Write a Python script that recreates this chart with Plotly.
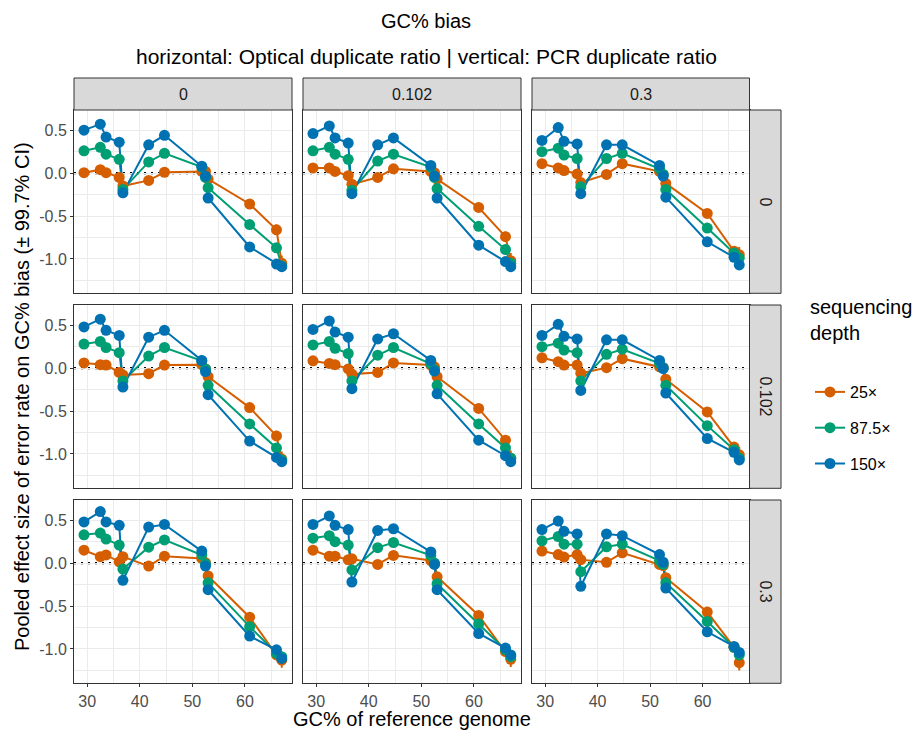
import plotly.graph_objects as go

# ---------------------------------------------------------------- data
GC = [29.4, 32.5, 33.6, 36.1, 36.8, 41.7, 44.7, 51.8, 52.5, 53.0, 60.9, 66.0, 67.0]

OPTICAL_RATIOS = ["0", "0.102", "0.3"]   # facet columns
PCR_RATIOS = ["0", "0.102", "0.3"]       # facet rows
DEPTHS = ["25×", "87.5×", "150×"]

Y_TICKS = [-1.0, -0.5, 0.0, 0.5]
Y_TICK_LABELS = ["-1.0", "-0.5", "0.0", "0.5"]
X_TICKS = [30, 40, 50, 60]
X_TICK_LABELS = ["30", "40", "50", "60"]

# pooled effect sizes, PCR ratio 0
PCR0_OPT0_D25 = [0.005, 0.04, 0.005, -0.05, -0.15, -0.085, 0.01, 0.02, 0.02, -0.07, -0.36, -0.66, -1.05]
PCR0_OPT0_D87 = [0.26, 0.30, 0.22, 0.16, -0.19, 0.13, 0.23, 0.07, -0.05, -0.17, -0.60, -0.87, -1.08]
PCR0_OPT0_D150 = [0.50, 0.57, 0.42, 0.36, -0.23, 0.33, 0.44, 0.08, -0.035, -0.29, -0.86, -1.06, -1.09]

PCR0_OPT1_D25 = [0.06, 0.06, 0.02, -0.03, -0.13, -0.05, 0.05, 0.02, 0.005, -0.07, -0.40, -0.74, -1.02]
PCR0_OPT1_D87 = [0.26, 0.30, 0.22, 0.16, -0.20, 0.14, 0.22, 0.07, -0.05, -0.18, -0.62, -0.89, -1.05]
PCR0_OPT1_D150 = [0.46, 0.55, 0.41, 0.35, -0.24, 0.33, 0.41, 0.09, -0.035, -0.29, -0.84, -1.03, -1.09]

PCR0_OPT2_D25 = [0.11, 0.06, 0.03, -0.01, -0.11, -0.015, 0.11, 0.02, -0.015, -0.12, -0.47, -0.91, -0.95]
PCR0_OPT2_D87 = [0.25, 0.29, 0.21, 0.17, -0.16, 0.17, 0.23, 0.05, -0.015, -0.19, -0.64, -0.93, -0.99]
PCR0_OPT2_D150 = [0.38, 0.53, 0.37, 0.34, -0.24, 0.33, 0.33, 0.09, -0.035, -0.28, -0.80, -0.98, -1.07]

# pooled effect sizes, PCR ratio 0.102
PCR1_OPT0_D25 = [0.06, 0.04, 0.035, -0.05, -0.08, -0.065, 0.035, 0.04, -0.01, -0.10, -0.46, -0.79, -1.06]
PCR1_OPT0_D87 = [0.28, 0.31, 0.24, 0.18, -0.15, 0.14, 0.24, 0.085, -0.01, -0.20, -0.65, -0.93, -1.07]
PCR1_OPT0_D150 = [0.48, 0.57, 0.44, 0.38, -0.22, 0.36, 0.44, 0.09, -0.04, -0.31, -0.85, -1.04, -1.09]

PCR1_OPT1_D25 = [0.085, 0.055, 0.04, -0.01, -0.07, -0.05, 0.06, 0.035, 0.015, -0.10, -0.47, -0.84, -1.05]
PCR1_OPT1_D87 = [0.27, 0.31, 0.23, 0.17, -0.15, 0.15, 0.24, 0.05, -0.02, -0.20, -0.65, -0.93, -1.05]
PCR1_OPT1_D150 = [0.45, 0.55, 0.42, 0.36, -0.24, 0.34, 0.40, 0.09, -0.035, -0.30, -0.84, -1.02, -1.09]

PCR1_OPT2_D25 = [0.12, 0.075, 0.035, 0.035, -0.06, 0.005, 0.11, 0.015, 0.005, -0.13, -0.51, -0.92, -1.01]
PCR1_OPT2_D87 = [0.25, 0.29, 0.21, 0.18, -0.15, 0.16, 0.22, 0.055, 0.005, -0.20, -0.67, -0.95, -1.05]
PCR1_OPT2_D150 = [0.38, 0.51, 0.37, 0.34, -0.26, 0.33, 0.33, 0.09, -0.005, -0.29, -0.82, -0.98, -1.07]

# pooled effect sizes, PCR ratio 0.3
PCR2_OPT0_D25 = [0.15, 0.075, 0.095, 0.015, 0.075, -0.035, 0.08, 0.055, 0.005, -0.15, -0.63, -1.07, -1.13]
PCR2_OPT0_D87 = [0.33, 0.35, 0.28, 0.21, -0.07, 0.185, 0.27, 0.095, -0.01, -0.23, -0.74, -1.05, -1.09]
PCR2_OPT0_D150 = [0.48, 0.60, 0.48, 0.44, -0.20, 0.42, 0.45, 0.14, -0.035, -0.31, -0.85, -1.01, -1.11]

PCR2_OPT1_D25 = [0.15, 0.08, 0.08, 0.04, 0.05, -0.015, 0.09, 0.03, -0.01, -0.16, -0.61, -1.03, -1.12]
PCR2_OPT1_D87 = [0.29, 0.32, 0.25, 0.21, -0.08, 0.18, 0.24, 0.09, 0.0, -0.24, -0.71, -1.01, -1.09]
PCR2_OPT1_D150 = [0.45, 0.55, 0.44, 0.39, -0.22, 0.38, 0.40, 0.13, -0.015, -0.31, -0.82, -0.99, -1.07]

PCR2_OPT2_D25 = [0.14, 0.10, 0.07, 0.10, 0.04, 0.01, 0.12, -0.015, -0.03, -0.17, -0.57, -0.98, -1.16]
PCR2_OPT2_D87 = [0.26, 0.31, 0.22, 0.22, -0.10, 0.19, 0.22, 0.03, -0.015, -0.23, -0.68, -0.98, -1.07]
PCR2_OPT2_D150 = [0.39, 0.49, 0.37, 0.34, -0.27, 0.34, 0.32, 0.10, 0.01, -0.29, -0.80, -0.97, -1.04]

# half-width of the 99.7% CI per depth
CI_D25 = [0.02, 0.02, 0.02, 0.02, 0.02, 0.02, 0.02, 0.02, 0.02, 0.03, 0.05, 0.06, 0.09]
CI_D87 = [0.015, 0.015, 0.015, 0.015, 0.015, 0.015, 0.015, 0.015, 0.015, 0.02, 0.04, 0.05, 0.05]
CI_D150 = [0.015, 0.015, 0.015, 0.015, 0.015, 0.015, 0.015, 0.015, 0.015, 0.02, 0.04, 0.04, 0.04]

BIAS = {
    (0, 0): [PCR0_OPT0_D25, PCR0_OPT0_D87, PCR0_OPT0_D150],
    (0, 1): [PCR0_OPT1_D25, PCR0_OPT1_D87, PCR0_OPT1_D150],
    (0, 2): [PCR0_OPT2_D25, PCR0_OPT2_D87, PCR0_OPT2_D150],
    (1, 0): [PCR1_OPT0_D25, PCR1_OPT0_D87, PCR1_OPT0_D150],
    (1, 1): [PCR1_OPT1_D25, PCR1_OPT1_D87, PCR1_OPT1_D150],
    (1, 2): [PCR1_OPT2_D25, PCR1_OPT2_D87, PCR1_OPT2_D150],
    (2, 0): [PCR2_OPT0_D25, PCR2_OPT0_D87, PCR2_OPT0_D150],
    (2, 1): [PCR2_OPT1_D25, PCR2_OPT1_D87, PCR2_OPT1_D150],
    (2, 2): [PCR2_OPT2_D25, PCR2_OPT2_D87, PCR2_OPT2_D150],
}
CI = [CI_D25, CI_D87, CI_D150]

# ---------------------------------------------------------------- style
COLORS = ["#D55E00", "#009E73", "#0072B2"]
FONT = "Liberation Sans, Arial, sans-serif"
W, H = 917, 730

COL_PX = [(74, 292), (303, 521), (532, 749.5)]
ROW_PX = [(110, 293.3), (305, 488.3), (500, 683.3)]
STRIP_TOP = 78
RIGHT_STRIP = (749.5, 781)

X_RANGE = [27.5, 68.95]
Y_RANGE = [-1.40, 0.735]

LINE_W = 2
MARKER_SIZE = 11
TICK_FONT = dict(size=16, color="#4D4D4D", family=FONT)
STRIP_FONT = dict(size=16, color="#1A1A1A", family=FONT)


def fx(p):
    return p / W


def fy(p):
    return 1 - p / H


def suffix(k):
    return "" if k == 1 else str(k)


fig = go.Figure()
layout_axes = {}
shapes = []
annotations = []

for r in range(3):
    for c in range(3):
        k = r * 3 + c + 1
        xa, ya = "x" + suffix(k), "y" + suffix(k)
        xl, xr = COL_PX[c]
        yt, yb = ROW_PX[r]
        bottom = r == 2
        left = c == 0
        layout_axes["xaxis" + suffix(k)] = dict(
            domain=[fx(xl), fx(xr)], anchor=ya, range=X_RANGE,
            tickvals=X_TICKS, ticktext=X_TICK_LABELS,
            showticklabels=bottom, ticks="outside" if bottom else "",
            ticklen=3, tickwidth=1, tickcolor="#333333", tickfont=TICK_FONT,
            showgrid=True, gridcolor="#EBEBEB", gridwidth=1.2,
            minor=dict(tickvals=[25, 35, 45, 55, 65], showgrid=True,
                       gridcolor="#EBEBEB", gridwidth=0.6, ticks=""),
            zeroline=False, showline=True, mirror=True,
            linecolor="#333333", linewidth=1,
        )
        layout_axes["yaxis" + suffix(k)] = dict(
            domain=[fy(yb), fy(yt)], anchor=xa, range=Y_RANGE,
            tickvals=Y_TICKS, ticktext=Y_TICK_LABELS,
            showticklabels=left, ticks="outside" if left else "",
            ticklen=3, tickwidth=1, tickcolor="#333333", tickfont=TICK_FONT,
            showgrid=True, gridcolor="#EBEBEB", gridwidth=1.2,
            minor=dict(tickvals=[-1.25, -0.75, -0.25, 0.25], showgrid=True,
                       gridcolor="#EBEBEB", gridwidth=0.6, ticks=""),
            zeroline=False, showline=True, mirror=True,
            linecolor="#333333", linewidth=1,
        )

        # reference line at zero, under the data
        shapes.append(dict(
            type="line", xref=f"{xa} domain", yref=ya, x0=0, x1=1, y0=0, y1=0,
            line=dict(color="black", width=2.2, dash="2px,5px"), layer="below",
        ))

        series = BIAS[(r, c)]
        # connecting lines first, then point ranges on top
        for d in range(3):
            fig.add_trace(go.Scatter(
                x=GC, y=series[d], xaxis=xa, yaxis=ya, mode="lines",
                line=dict(color=COLORS[d], width=LINE_W),
                showlegend=False, hoverinfo="skip",
            ))
        for d in range(3):
            fig.add_trace(go.Scatter(
                x=GC, y=series[d], xaxis=xa, yaxis=ya, mode="markers",
                marker=dict(color=COLORS[d], size=MARKER_SIZE, line=dict(width=0)),
                error_y=dict(type="data", array=CI[d], color=COLORS[d],
                             thickness=LINE_W, width=0),
                showlegend=False, name=DEPTHS[d],
            ))

# legend entries
for d in range(3):
    fig.add_trace(go.Scatter(
        x=[None], y=[None], xaxis="x", yaxis="y", mode="lines+markers",
        name=DEPTHS[d], legendgroup=DEPTHS[d],
        line=dict(color=COLORS[d], width=LINE_W),
        marker=dict(color=COLORS[d], size=MARKER_SIZE),
    ))

# facet strips (top: optical duplicate ratio, right: PCR duplicate ratio)
for c in range(3):
    xl, xr = COL_PX[c]
    shapes.append(dict(
        type="rect", xref="paper", yref="paper",
        x0=fx(xl), x1=fx(xr), y0=fy(ROW_PX[0][0]), y1=fy(STRIP_TOP),
        fillcolor="#D9D9D9", line=dict(color="#333333", width=1),
    ))
    annotations.append(dict(
        xref="paper", yref="paper", x=fx((xl + xr) / 2),
        y=fy((STRIP_TOP + ROW_PX[0][0]) / 2), text=OPTICAL_RATIOS[c],
        showarrow=False, xanchor="center", yanchor="middle", font=STRIP_FONT,
    ))
for r in range(3):
    yt, yb = ROW_PX[r]
    shapes.append(dict(
        type="rect", xref="paper", yref="paper",
        x0=fx(RIGHT_STRIP[0]), x1=fx(RIGHT_STRIP[1]), y0=fy(yb), y1=fy(yt),
        fillcolor="#D9D9D9", line=dict(color="#333333", width=1),
    ))
    annotations.append(dict(
        xref="paper", yref="paper", x=fx(sum(RIGHT_STRIP) / 2),
        y=fy((yt + yb) / 2), text=PCR_RATIOS[r], textangle=90,
        showarrow=False, xanchor="center", yanchor="middle", font=STRIP_FONT,
    ))

# titles
annotations += [
    dict(xref="paper", yref="paper", x=fx(426), y=fy(21), text="GC% bias",
         showarrow=False, xanchor="center", yanchor="middle",
         font=dict(size=20, color="black", family=FONT)),
    dict(xref="paper", yref="paper", x=fx(426), y=fy(57),
         text="horizontal: Optical duplicate ratio | vertical: PCR duplicate ratio",
         showarrow=False, xanchor="center", yanchor="middle",
         font=dict(size=21, color="black", family=FONT)),
    dict(xref="paper", yref="paper", x=fx(412), y=fy(719),
         text="GC% of reference genome",
         showarrow=False, xanchor="center", yanchor="middle",
         font=dict(size=20, color="black", family=FONT)),
    dict(xref="paper", yref="paper", x=fx(22), y=fy(397),
         text="Pooled effect size of error rate on GC% bias (± 99.7% CI)",
         textangle=-90, showarrow=False, xanchor="center", yanchor="middle",
         font=dict(size=20, color="black", family=FONT)),
    dict(xref="paper", yref="paper", x=fx(808), y=fy(294),
         text="sequencing<br>depth", align="left",
         showarrow=False, xanchor="left", yanchor="top",
         font=dict(size=20, color="black", family=FONT)),
]

fig.update_layout(
    width=W, height=H,
    margin=dict(l=0, r=0, t=0, b=0),
    paper_bgcolor="white", plot_bgcolor="white",
    font=dict(family=FONT, color="black"),
    shapes=shapes, annotations=annotations,
    showlegend=True,
    legend=dict(
        x=fx(810), y=fy(375), xanchor="left", yanchor="top",
        font=dict(size=16, color="black", family=FONT),
        tracegroupgap=12, itemwidth=30, bgcolor="rgba(0,0,0,0)",
    ),
    **layout_axes,
)

fig.write_html("out.html")
